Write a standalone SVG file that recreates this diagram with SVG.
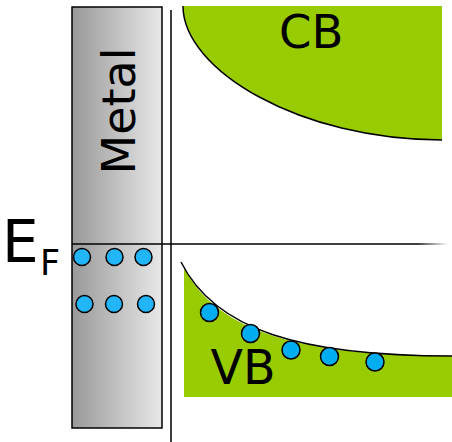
<svg xmlns="http://www.w3.org/2000/svg" width="452" height="442" viewBox="0 0 452 442">
<defs>
<linearGradient id="metalGrad" x1="0" y1="0" x2="1" y2="0">
<stop offset="0" stop-color="#999999"/>
<stop offset="1" stop-color="#e8e8e8"/>
</linearGradient>
<linearGradient id="efGrad" gradientUnits="userSpaceOnUse" x1="72" y1="0" x2="448" y2="0">
<stop offset="0.92" stop-color="#000"/>
<stop offset="1" stop-color="#000" stop-opacity="0"/>
</linearGradient>
<style>
.lbl{font-family:"DejaVu Sans",sans-serif;fill:#000}
.band{fill:#99cc00;stroke:none}
.edge{fill:none;stroke:#000;stroke-width:1.5}
.e1{fill:#22b5f7;stroke:#000;stroke-width:1.5}
.e2{fill:#00aeef;stroke:#000;stroke-width:1.5}
</style>
</defs>
<rect width="452" height="442" fill="#fff"/>
<g id="metal">
<rect x="72" y="7" width="90" height="421" fill="url(#metalGrad)" stroke="#000" stroke-width="1.5"/>
<text class="lbl" font-size="46" text-anchor="middle" transform="translate(135,111) rotate(-90)">Metal</text>
</g>
<g id="cb">
<path class="band" d="M183,6 C183,70 300,140 442,140 L442,6 Z"/>
<path class="edge" d="M183,6 C183,70 300,140 442,140"/>
<text class="lbl" x="279" y="48" font-size="46.5">CB</text>
</g>
<g id="vb">
<path class="band" d="M184,268 C218,332 300,356 452,356 L452,397 L184,397 Z"/>
<path class="edge" d="M181,262 C215,330 300,356 452,356"/>
<text class="lbl" x="210.5" y="384" font-size="47.5">VB</text>
</g>
<g id="connectors">
<line x1="171" y1="10" x2="171" y2="442" stroke="#000" stroke-width="1.5"/>
<line x1="72" y1="244" x2="448" y2="244" stroke="url(#efGrad)" stroke-width="1.5"/>
</g>
<g id="ef-label">
<text class="lbl" x="2" y="262" font-size="58">E</text>
<text class="lbl" x="40" y="275" font-size="35">F</text>
</g>
<g id="metal-electrons">
<circle class="e1" cx="82" cy="257" r="8.5"/>
<circle class="e1" cx="114.5" cy="257" r="8.5"/>
<circle class="e1" cx="143.5" cy="257" r="8.5"/>
<circle class="e1" cx="84.5" cy="304" r="8.5"/>
<circle class="e1" cx="114" cy="304" r="8.5"/>
<circle class="e1" cx="146" cy="304" r="8.5"/>
</g>
<g id="vb-electrons">
<circle class="e2" cx="209.5" cy="312.5" r="9"/>
<circle class="e2" cx="250.5" cy="333.5" r="9"/>
<circle class="e2" cx="291" cy="350" r="9"/>
<circle class="e2" cx="329.5" cy="356.5" r="9"/>
<circle class="e2" cx="375" cy="362" r="9"/>
</g>
</svg>
